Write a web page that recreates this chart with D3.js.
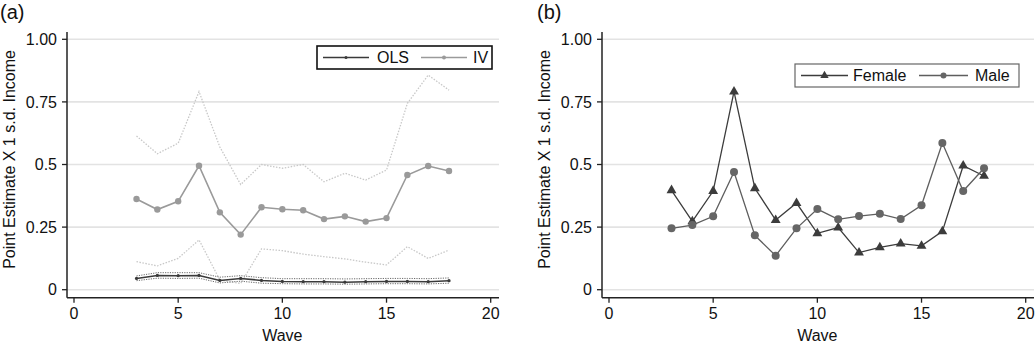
<!DOCTYPE html>
<html>
<head>
<meta charset="utf-8">
<script src="https://cdn.jsdelivr.net/npm/d3@7"></script>
<style>
  body { margin: 0; background: #fff; }
  svg { font-family: "Liberation Sans", Arial, sans-serif; }
</style>
</head>
<body>
<div id="chart"></div>
<script>
var waves = [3, 4, 5, 6, 7, 8, 9, 10, 11, 12, 13, 14, 15, 16, 17, 18],
  yTicks = [0, 0.25, 0.5, 0.75, 1],
  yTickLabels = ["0", "0.25", "0.5", "0.75", "1.00"],
  xTicks = [0, 5, 10, 15, 20],

  // panel (a)
  ivEst = [0.362, 0.32, 0.353, 0.495, 0.309, 0.22, 0.329, 0.321, 0.317, 0.282, 0.293, 0.272, 0.286, 0.458, 0.494, 0.474],
  ivUpper = [0.614, 0.543, 0.585, 0.791, 0.57, 0.42, 0.5, 0.485, 0.5, 0.431, 0.465, 0.438, 0.478, 0.744, 0.857, 0.797],
  ivLower = [0.112, 0.095, 0.125, 0.199, 0.039, 0.025, 0.163, 0.156, 0.142, 0.132, 0.123, 0.11, 0.099, 0.172, 0.125, 0.158],
  olsEst = [0.045, 0.057, 0.056, 0.057, 0.037, 0.045, 0.037, 0.033, 0.032, 0.032, 0.03, 0.032, 0.033, 0.033, 0.032, 0.036],
  olsUpper = [0.055, 0.068, 0.068, 0.068, 0.05, 0.056, 0.048, 0.044, 0.044, 0.044, 0.043, 0.044, 0.045, 0.045, 0.044, 0.047],
  olsLower = [0.036, 0.046, 0.045, 0.046, 0.027, 0.034, 0.026, 0.024, 0.023, 0.023, 0.022, 0.023, 0.024, 0.024, 0.023, 0.026],

  // panel (b)
  female = [0.397, 0.273, 0.394, 0.791, 0.405, 0.278, 0.346, 0.225, 0.248, 0.148, 0.169, 0.184, 0.175, 0.233, 0.495, 0.454],
  male = [0.245, 0.258, 0.293, 0.47, 0.217, 0.136, 0.245, 0.322, 0.281, 0.294, 0.303, 0.282, 0.337, 0.586, 0.394, 0.485];

var svg = d3.select("#chart").append("svg")
  .attr("width", 1036)
  .attr("height", 346);

function pairs(values) {
  return waves.map(function(w, i) {
    return { x: w, y: values[i] };
  });
}

function drawPanel(left, opts) {
  var x = d3.scaleLinear().domain([0, 20]).range([left + 7, left + 423.7]),
    y = d3.scaleLinear().domain([0, 1]).range([289.7, 39.3]),
    axisLeft = left,
    axisRight = left + 432,
    axisBottom = 297.7,
    axisTop = 32,
    g = svg.append("g");

  // gridlines
  g.selectAll(".grid")
    .data(yTicks)
    .enter().append("line")
    .attr("x1", axisLeft)
    .attr("x2", axisRight)
    .attr("y1", function(d) { return y(d); })
    .attr("y2", function(d) { return y(d); })
    .attr("stroke", "#e3e3e3")
    .attr("stroke-width", 1.6);

  // y axis
  g.append("line")
    .attr("x1", axisLeft).attr("x2", axisLeft)
    .attr("y1", axisTop).attr("y2", axisBottom)
    .attr("stroke", "#222").attr("stroke-width", 1.5);
  g.selectAll(".ytick")
    .data(yTicks)
    .enter().append("line")
    .attr("x1", axisLeft - 5).attr("x2", axisLeft)
    .attr("y1", function(d) { return y(d); })
    .attr("y2", function(d) { return y(d); })
    .attr("stroke", "#222").attr("stroke-width", 1.3);
  g.selectAll(".ylab")
    .data(yTicks)
    .enter().append("text")
    .attr("x", axisLeft - 10)
    .attr("y", function(d) { return y(d); })
    .attr("dy", "0.36em")
    .attr("text-anchor", "end")
    .attr("font-size", 16)
    .attr("fill", "#111")
    .text(function(d, i) { return yTickLabels[i]; });

  // x axis
  g.append("line")
    .attr("x1", axisLeft).attr("x2", axisRight)
    .attr("y1", axisBottom).attr("y2", axisBottom)
    .attr("stroke", "#222").attr("stroke-width", 1.5);
  g.selectAll(".xtick")
    .data(xTicks)
    .enter().append("line")
    .attr("x1", function(d) { return x(d); })
    .attr("x2", function(d) { return x(d); })
    .attr("y1", axisBottom).attr("y2", axisBottom + 5)
    .attr("stroke", "#222").attr("stroke-width", 1.3);
  g.selectAll(".xlab")
    .data(xTicks)
    .enter().append("text")
    .attr("x", function(d) { return x(d); })
    .attr("y", 319)
    .attr("text-anchor", "middle")
    .attr("font-size", 16)
    .attr("fill", "#111")
    .text(function(d) { return d; });

  g.append("text")
    .attr("x", x(10))
    .attr("y", 341)
    .attr("text-anchor", "middle")
    .attr("font-size", 16)
    .attr("fill", "#111")
    .text("Wave");

  g.append("text")
    .attr("transform", "translate(" + (left - 52) + "," + y(0.52) + ") rotate(-90)")
    .attr("text-anchor", "middle")
    .attr("font-size", 16)
    .attr("fill", "#111")
    .text("Point Estimate X 1 s.d. Income");

  g.append("text")
    .attr("x", opts.labelX)
    .attr("y", 19)
    .attr("font-size", 20)
    .attr("fill", "#111")
    .text(opts.label);

  var line = d3.line()
    .x(function(d) { return x(d.x); })
    .y(function(d) { return y(d.y); });

  opts.series.forEach(function(s) {
    g.append("path")
      .datum(pairs(s.values))
      .attr("fill", "none")
      .attr("stroke", s.color)
      .attr("stroke-width", s.width)
      .attr("stroke-dasharray", s.dash || null)
      .attr("d", line);
    if (s.marker === "circle") {
      g.selectAll(null)
        .data(pairs(s.values))
        .enter().append("circle")
        .attr("cx", function(d) { return x(d.x); })
        .attr("cy", function(d) { return y(d.y); })
        .attr("r", s.r)
        .attr("fill", s.markerColor || s.color);
    } else if (s.marker === "triangle") {
      g.selectAll(null)
        .data(pairs(s.values))
        .enter().append("path")
        .attr("transform", function(d) { return "translate(" + x(d.x) + "," + y(d.y) + ")"; })
        .attr("d", d3.symbol().type(d3.symbolTriangle).size(s.size))
        .attr("fill", s.markerColor || s.color);
    }
  });

  // legend
  var lg = opts.legend,
    leg = g.append("g");
  leg.append("rect")
    .attr("x", lg.x).attr("y", lg.y)
    .attr("width", lg.w).attr("height", lg.h)
    .attr("fill", "#fff")
    .attr("stroke", lg.stroke)
    .attr("stroke-width", lg.strokeWidth);
  lg.items.forEach(function(it) {
    var cy = lg.y + lg.h / 2,
      s = it.series;
    leg.append("line")
      .attr("x1", it.x1).attr("x2", it.x2)
      .attr("y1", cy).attr("y2", cy)
      .attr("stroke", s.color)
      .attr("stroke-width", s.width);
    if (s.marker === "circle") {
      leg.append("circle")
        .attr("cx", (it.x1 + it.x2) / 2).attr("cy", cy)
        .attr("r", it.r)
        .attr("fill", s.markerColor || s.color);
    } else {
      leg.append("path")
        .attr("transform", "translate(" + (it.x1 + it.x2) / 2 + "," + cy + ")")
        .attr("d", d3.symbol().type(d3.symbolTriangle).size(it.size))
        .attr("fill", s.markerColor || s.color);
    }
    leg.append("text")
      .attr("x", it.tx)
      .attr("y", cy)
      .attr("dy", "0.36em")
      .attr("font-size", 16)
      .attr("fill", "#111")
      .text(it.text);
  });
}

var olsSeries = { values: olsEst, color: "#3a3a3a", width: 1.6, marker: "circle", r: 1.6 },
  ivSeries = { values: ivEst, color: "#9a9a9a", width: 1.6, marker: "circle", r: 3.2 },
  femaleSeries = { values: female, color: "#3c3c3c", width: 1.3, marker: "triangle", size: 42 },
  maleSeries = { values: male, color: "#5e5e5e", width: 1.3, marker: "circle", r: 4, markerColor: "#666" };

drawPanel(67, {
  label: "(a)",
  labelX: 0,
  series: [
    { values: ivUpper, color: "#c8c8c8", width: 1.3, dash: "1.5,1.5" },
    { values: ivLower, color: "#c8c8c8", width: 1.3, dash: "1.5,1.5" },
    { values: olsUpper, color: "#6a6a6a", width: 1, dash: "1.2,1.2" },
    { values: olsLower, color: "#6a6a6a", width: 1, dash: "1.2,1.2" },
    olsSeries,
    ivSeries
  ],
  legend: {
    x: 317, y: 46, w: 175, h: 23, stroke: "#111", strokeWidth: 1.6,
    items: [
      { series: olsSeries, x1: 323, x2: 369, r: 1.5, tx: 377, text: "OLS" },
      { series: ivSeries, x1: 421, x2: 467, r: 2, tx: 473, text: "IV" }
    ]
  }
});

drawPanel(602, {
  label: "(b)",
  labelX: 537,
  series: [femaleSeries, maleSeries],
  legend: {
    x: 795, y: 64, w: 224, h: 23, stroke: "#666", strokeWidth: 1.2,
    items: [
      { series: femaleSeries, x1: 801, x2: 848, size: 30, tx: 853, text: "Female" },
      { series: maleSeries, x1: 919, x2: 968, r: 3, tx: 975, text: "Male" }
    ]
  }
});
</script>
</body>
</html>
